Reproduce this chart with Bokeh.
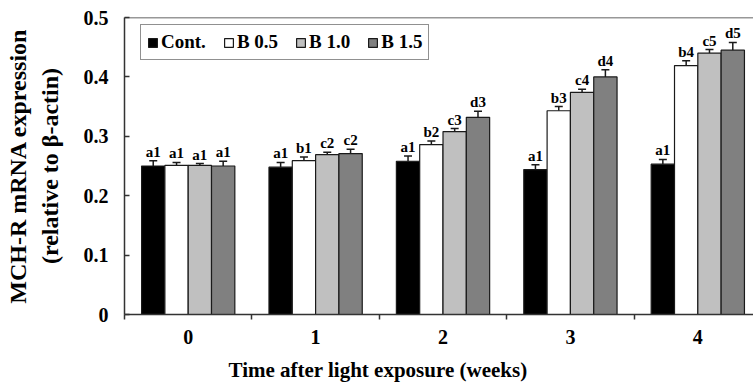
from bokeh.plotting import figure
from bokeh.models import (ColumnDataSource, FixedTicker, NumeralTickFormatter, Whisker,
                          TeeHead, Span, Range1d, Title)
from bokeh.core.properties import value
from bokeh.embed import file_html
from bokeh.resources import INLINE

weeks = [0, 1, 2, 3, 4]
week_labels = ["0", "1", "2", "3", "4"]
series_names = ["Cont.", "B 0.5", "B 1.0", "B 1.5"]
cont = [0.250, 0.248, 0.258, 0.244, 0.253]
cont_err = [0.009, 0.008, 0.009, 0.008, 0.008]
b05 = [0.251, 0.259, 0.286, 0.343, 0.419]
b05_err = [0.005, 0.006, 0.006, 0.007, 0.008]
b10 = [0.251, 0.269, 0.308, 0.374, 0.440]
b10_err = [0.003, 0.004, 0.005, 0.005, 0.006]
b15 = [0.250, 0.271, 0.332, 0.400, 0.445]
b15_err = [0.008, 0.007, 0.010, 0.012, 0.013]
cont_lbl = ["a1", "a1", "a1", "a1", "a1"]
b05_lbl = ["a1", "b1", "b2", "b3", "b4"]
b10_lbl = ["a1", "c2", "c3", "c4", "c5"]
b15_lbl = ["a1", "c2", "d3", "d4", "d5"]
y_ticks = [0, 0.1, 0.2, 0.3, 0.4, 0.5]

FONT = "Liberation Serif"
colors = ["#000000", "#ffffff", "#c0c0c0", "#808080"]
bar_w = 0.183
offsets = [-1.5 * bar_w, -0.5 * bar_w, 0.5 * bar_w, 1.5 * bar_w]

p = figure(width=753, height=391, output_backend="svg", toolbar_location=None,
           x_range=Range1d(-0.5, 4.437), y_range=Range1d(0, 0.5),
           min_border_left=124, min_border_right=0, min_border_top=17, min_border_bottom=77)
p.outline_line_color = None
p.xgrid.visible = False
p.ygrid.visible = False

series = [(cont, cont_err, cont_lbl), (b05, b05_err, b05_lbl),
          (b10, b10_err, b10_lbl), (b15, b15_err, b15_lbl)]
for (vals, errs, lbls), name, col, off in zip(series, series_names, colors, offsets):
    src = ColumnDataSource(dict(
        x=[w + off for w in weeks], top=vals,
        upper=[v + e for v, e in zip(vals, errs)], lbl=lbls))
    p.vbar(x="x", top="top", bottom=0, width=bar_w, source=src, fill_color=col,
           line_color="#1a1a1a", line_width=1.2, legend_label=name)
    wh = Whisker(source=src, base="x", lower="top", upper="upper",
                 upper_head=TeeHead(size=8, line_color="#1a1a1a", line_width=1.5),
                 lower_head=None, line_color="#1a1a1a", line_width=1.5)
    p.add_layout(wh)
    p.text(x="x", y="upper", text="lbl", source=src, text_align="center",
           text_baseline="bottom", y_offset=-1, text_font=value(FONT),
           text_font_style="bold", text_font_size="15px", text_color="black")

p.add_layout(Span(location=0.5, dimension="width", line_color="#333333", line_width=1.5))

# y axis
ya = p.yaxis[0]
ya.ticker = FixedTicker(ticks=y_ticks)
ya.formatter = NumeralTickFormatter(format="0.[0]")
ya.major_tick_in = 5
ya.major_tick_out = 0
ya.minor_tick_line_color = None
ya.major_tick_line_color = "#333333"
ya.major_tick_line_width = 1.5
ya.axis_line_color = "#333333"
ya.axis_line_width = 1.5
ya.major_label_standoff = 16
ya.major_label_text_font = FONT
ya.major_label_text_font_style = "bold"
ya.major_label_text_font_size = "20px"
ya.major_label_text_color = "black"
ya.axis_label = "MCH-R mRNA expression\n(relative to \u03b2-actin)"
ya.axis_label_text_font = FONT
ya.axis_label_text_font_style = "bold"
ya.axis_label_text_font_size = "24px"
ya.axis_label_text_color = "black"
ya.axis_label_standoff = 18

# x axis
xa = p.xaxis[0]
xa.ticker = FixedTicker(ticks=weeks, minor_ticks=[w - 0.5 for w in weeks])
xa.major_label_overrides = {w: s for w, s in zip(weeks, week_labels)}
xa.major_tick_line_color = None
xa.major_tick_in = 0
xa.major_tick_out = 0
xa.minor_tick_in = 0
xa.minor_tick_out = 5
xa.minor_tick_line_color = "#333333"
xa.minor_tick_line_width = 1.5
xa.axis_line_color = "#333333"
xa.axis_line_width = 1.5
xa.major_label_standoff = 10
xa.major_label_text_font = FONT
xa.major_label_text_font_style = "bold"
xa.major_label_text_font_size = "20px"
xa.major_label_text_color = "black"

xt = Title(text="Time after light exposure (weeks)", align="left", offset=104,
           text_font=FONT, text_font_style="bold", text_font_size="21px",
           text_color="black", standoff=19)
p.add_layout(xt, "below")

lg = p.legend[0]
lg.orientation = "horizontal"
lg.location = (16, 254)
lg.border_line_color = "#222222"
lg.border_line_width = 1.2
lg.background_fill_alpha = 1
lg.padding = 6
lg.margin = 0
lg.spacing = 17
lg.label_standoff = 3
lg.glyph_width = 11
lg.glyph_height = 11
lg.label_text_font = FONT
lg.label_text_font_style = "bold"
lg.label_text_font_size = "19px"
lg.label_text_color = "black"

open("out.html", "w").write(file_html(p, INLINE))
